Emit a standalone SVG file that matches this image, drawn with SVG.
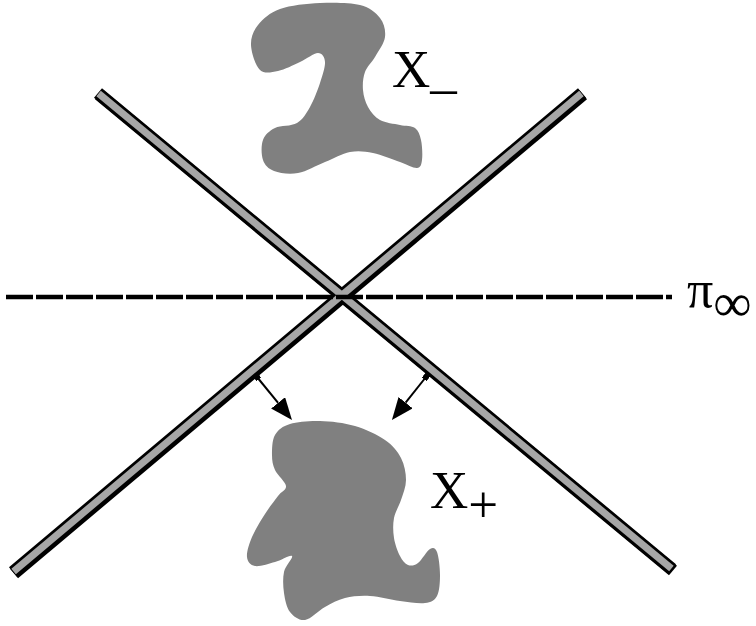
<svg xmlns="http://www.w3.org/2000/svg" width="756" height="626" viewBox="0 0 756 626">
<defs>
<style>
.blob{fill:#808080;stroke:none}
.bar-out{stroke:#000;stroke-width:12.5;stroke-linecap:butt;fill:none}
.bar-in{stroke:#a6a6a6;stroke-width:7;stroke-linecap:butt;fill:none}
.lbl{font-family:"Liberation Serif","Times New Roman",serif;fill:#000}
.arrow{stroke:#000;stroke-width:2;fill:none;marker-end:url(#head);marker-start:url(#tail)}
</style>
<marker id="head" viewBox="0 0 22 18" refX="0" refY="9" markerWidth="22" markerHeight="18" markerUnits="userSpaceOnUse" orient="auto">
<path d="M0,0 L22,9 L0,18 Z" fill="#000"/>
</marker>
<marker id="tail" viewBox="0 0 6 6" refX="3" refY="3" markerWidth="6" markerHeight="6" markerUnits="userSpaceOnUse" orient="auto">
<rect x="0" y="0" width="6" height="6" fill="#000"/>
</marker>
</defs>
<rect width="756" height="626" fill="#fff"/>

<g id="region-x-minus">
<path class="blob" d="M251,45 C250.7,37.5 253.2,31 258,25 S269.7,12.7 280,9 S306.7,3.7 320,3 S350,2.5 360,5 S375.8,12.7 380,18 S385.8,30.5 385,37 S378.3,51.2 375,57 S367,66.5 365,72 S362.5,84.2 363,90 S365.2,102 368,107 S374.7,117 380,120 S394.2,123.7 400,125 S411.5,125.5 415,128 S419.8,134.7 421,140 S422.7,155.3 422,160 S420.7,167.7 417,168 S407.3,164.5 400,162 S381.3,154.7 373,153 S358,150.5 350,152 S333.7,158.5 325,162 S306.5,171.5 298,173 S279.8,173.2 274,171 S264.8,165.2 263,160 S261,145.3 263,140 S269.3,130.8 275,128 S291.2,126.5 297,123 S306.2,113.7 310,107 S317.5,90.5 320,83 S325.3,67 325,62 S322.2,53 318,53 S306.7,59 300,62 S284.7,69.7 278,71 S264.5,74.3 260,70 S251.3,52.5 251,45 Z"/>
<text class="lbl" x="392" y="87" font-size="53">X_</text>
</g>

<g id="region-x-plus">
<path class="blob" d="M272,455 C272,449.2 272,440.2 275,435 S282.5,426.3 290,424 S309.2,420.7 320,421 S344.2,422.8 355,426 S377.3,434.7 385,440 S397.5,451.3 401,458 S406,473 406,480 S403,493.7 401,500 S395.2,511.7 394,518 S393,531.7 394,538 S397.7,551.5 400,556 S405,563.8 408,565 S414.3,565.7 418,563 S426.8,550.8 430,549 S435.3,547.7 437,552 S440,567.7 440,575 S439.5,591.3 437,596 S431.2,602.2 425,603 S409.2,602.2 400,601 S379.2,596.5 370,596 S352.5,596.2 345,598 S331.7,603.3 325,607 S310.8,619.2 305,620 S293.5,616.5 290,612 S285,599.7 284,593 S282.7,578.2 284,572 S293.5,557.7 292,556 S281.2,560.3 275,562 S259.7,566.8 255,566 S247.5,561.8 247,557 S249,544.2 252,537 S260.7,520.8 265,514 S274.5,500.7 278,496 S286.5,490.3 286,486 S277.3,475.2 275,470 S272,460.8 272,455 Z"/>
<text class="lbl" x="430" y="508" font-size="53">X<tspan dy="14">+</tspan></text>
</g>

<g id="planes">
<g transform="translate(1,1.5)">
<line class="bar-out" x1="98" y1="93" x2="672" y2="569"/>
<line class="bar-out" x1="13" y1="572" x2="582" y2="93"/>
</g>
<line class="bar-out" x1="98" y1="93" x2="672" y2="569"/>
<line class="bar-out" x1="13" y1="572" x2="582" y2="93"/>
<line class="bar-in" x1="98.6" y1="93.5" x2="671.4" y2="568.5"/>
<line class="bar-in" x1="13.6" y1="571.5" x2="581.4" y2="93.5"/>
</g>

<g id="pi-infinity">
<line x1="6" y1="297" x2="672" y2="297" stroke="#000" stroke-width="4.5" stroke-dasharray="27 3"/>
<text class="lbl" x="687" y="307" font-size="52">π<tspan dy="14" font-size="54">∞</tspan></text>
</g>

<g id="connectors">
<line class="arrow" x1="257" y1="377" x2="278.1" y2="402.9"/>
<line class="arrow" x1="426" y1="377" x2="405.6" y2="402.7"/>
</g>
</svg>
